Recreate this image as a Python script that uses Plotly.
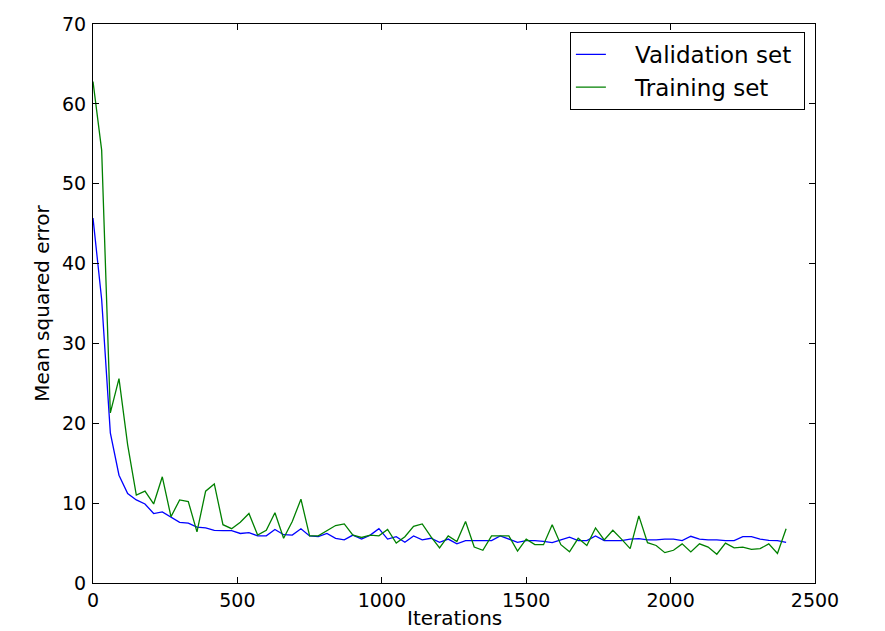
import plotly.graph_objects as go

iterations = list(range(0, 2401, 30))

validation = [
    45.7, 35.5, 18.8, 13.5, 11.2, 10.4, 9.9, 8.7, 8.9, 8.2,
    7.6, 7.5, 7.0, 6.9, 6.6, 6.55, 6.55, 6.2, 6.3, 5.9,
    5.9, 6.7, 6.05, 6.0, 6.8, 5.9, 5.8, 6.2, 5.6, 5.4,
    6.0, 5.5, 6.0, 6.8, 5.5, 5.8, 5.1, 5.9, 5.4, 5.6,
    5.1, 5.5, 4.9, 5.3, 5.3, 5.3, 5.3, 5.9, 5.5, 5.1,
    5.3, 5.3, 5.2, 5.05, 5.4, 5.75, 5.3, 5.3, 5.9, 5.3,
    5.3, 5.3, 5.5, 5.55, 5.4, 5.4, 5.5, 5.5, 5.3, 5.85,
    5.5, 5.4, 5.4, 5.3, 5.3, 5.8, 5.8, 5.5, 5.35, 5.3,
    5.1,
]

training = [
    62.8, 54.2, 21.3, 25.6, 17.3, 11.0, 11.5, 9.9, 13.3, 8.3,
    10.4, 10.2, 6.4, 11.5, 12.4, 7.3, 6.8, 7.6, 8.7, 6.0,
    6.6, 8.8, 5.6, 7.7, 10.5, 5.9, 5.9, 6.5, 7.2, 7.4,
    6.0, 5.7, 6.0, 5.9, 6.7, 5.0, 5.8, 7.1, 7.4, 5.8,
    4.4, 5.9, 5.2, 7.7, 4.5, 4.1, 5.9, 5.9, 5.9, 4.0,
    5.5, 4.8, 4.8, 7.3, 4.8, 3.9, 5.6, 4.7, 6.9, 5.4,
    6.6, 5.5, 4.3, 8.4, 5.05, 4.7, 3.8, 4.1, 4.9, 3.9,
    4.9, 4.5, 3.6, 5.0, 4.4, 4.5, 4.2, 4.3, 4.9, 3.7,
    6.8,
]

series_names = ["Validation set", "Training set"]
x_title = "Iterations"
y_title = "Mean squared error"
x_ticks = [0, 500, 1000, 1500, 2000, 2500]
y_ticks = [0, 10, 20, 30, 40, 50, 60, 70]

lead = "\u00a0" * 3 + "\u200a"
trail = "\u00a0"

fig = go.Figure()
fig.add_trace(go.Scatter(x=iterations, y=validation, mode="lines",
                         name=lead + series_names[0] + trail,
                         line=dict(color="#0000ff", width=1.3)))
fig.add_trace(go.Scatter(x=iterations, y=training, mode="lines",
                         name=lead + series_names[1] + trail,
                         line=dict(color="#008000", width=1.3)))

axis_common = dict(
    showline=True, linecolor="black", linewidth=1.2, mirror="ticks",
    ticks="inside", ticklen=6, tickcolor="black", tickwidth=1,
    showgrid=False, zeroline=False, automargin=False,
    tickfont=dict(family="DejaVu Sans", size=19, color="black"),
)

fig.update_layout(
    width=885, height=631,
    margin=dict(l=93, r=70, t=24, b=48),
    paper_bgcolor="white", plot_bgcolor="white",
    font=dict(family="DejaVu Sans", size=19, color="black"),
    xaxis=dict(range=[0, 2500], tickvals=x_ticks, **axis_common),
    yaxis=dict(range=[0, 70], tickvals=y_ticks,
               ticklabelstandoff=2,
               title=dict(text=y_title, standoff=6,
                          font=dict(family="DejaVu Sans", size=20)),
               **axis_common),
    legend=dict(x=0.986, y=0.986, xanchor="right", yanchor="top",
                bordercolor="black", borderwidth=1, bgcolor="white",
                font=dict(family="DejaVu Sans", size=23)),
    showlegend=True,
    annotations=[dict(text=x_title, xref="paper", yref="paper",
                      x=0.5, y=-0.062, xanchor="center", yanchor="middle",
                      showarrow=False,
                      font=dict(family="DejaVu Sans", size=20, color="black"))],
)

fig.write_html("out.html")
